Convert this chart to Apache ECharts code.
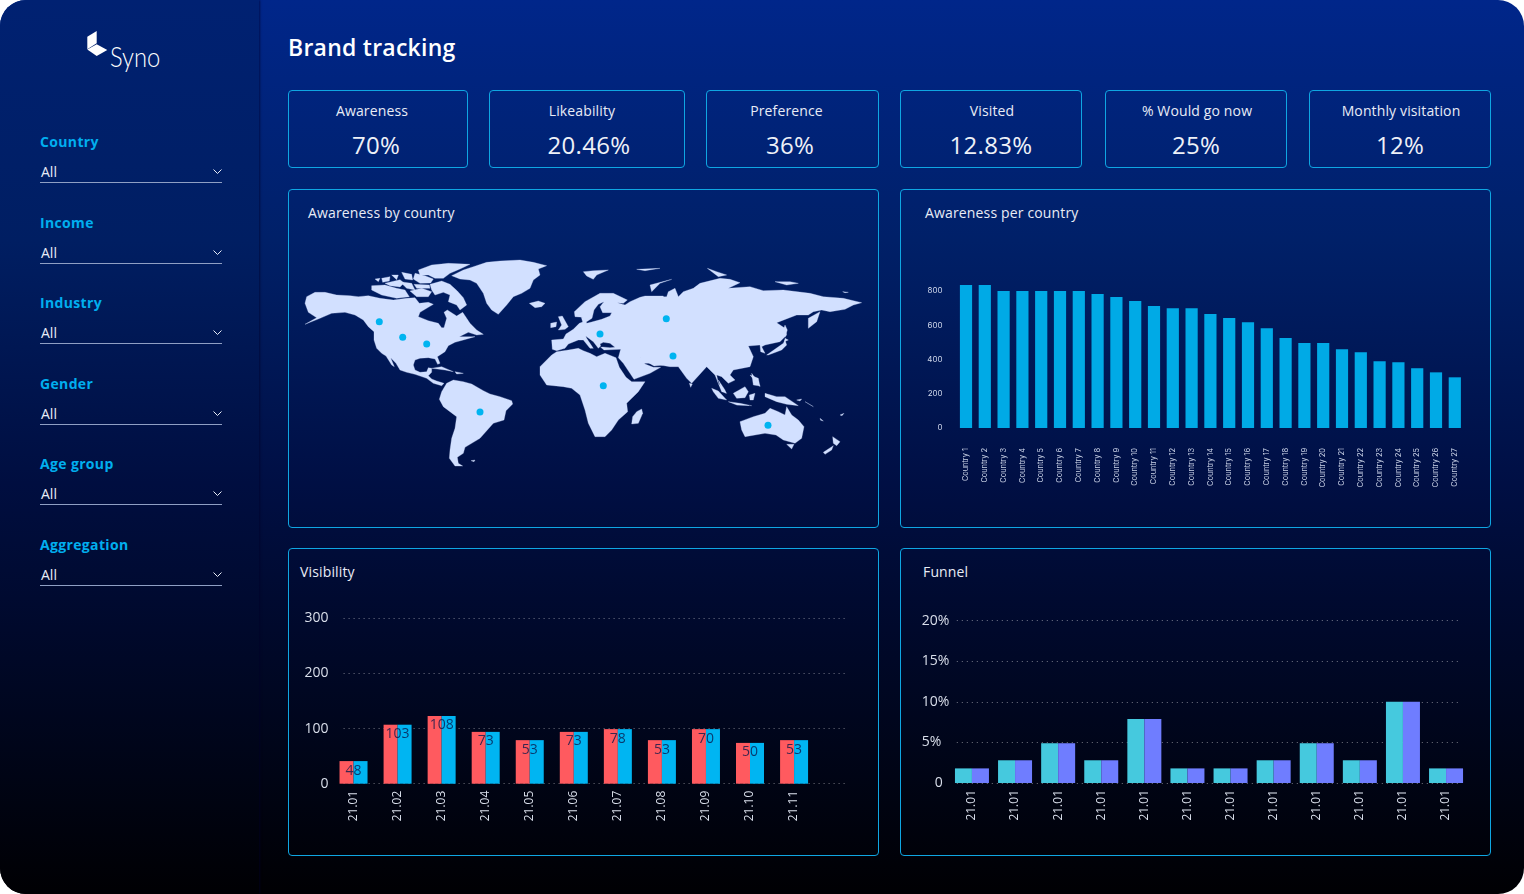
<!DOCTYPE html>
<html>
<head>
<meta charset="utf-8">
<title>Brand tracking</title>
<script src="https://cdn.jsdelivr.net/npm/echarts@6/dist/echarts.min.js"></script>
<style>
  html, body { margin: 0; background: #fff; font-family: "Open Sans", sans-serif; }
  #frame { position: absolute; left: 0; top: 0; width: 1524px; height: 894px; overflow: hidden; border-radius: 26px;
    background: linear-gradient(180deg, #00268a 0%, #002068 27%, #000f44 54%, #000a30 67%, #000003 100%); }
  #side { position: absolute; left: 0; top: 0; width: 259px; height: 894px; box-shadow: 1px 0 2px rgba(0, 0, 40, .6);
    background: linear-gradient(180deg, #002172 0%, #001e62 27%, #000e40 54%, #000a30 67%, #000003 100%); }
  #logoText { position: absolute; left: 110px; top: 40px; font: 300 27px Lato; color: #fff; transform: scaleX(.88); transform-origin: left; }
  .filterLabel { position: absolute; left: 40px; font-size: 14px; font-weight: 700; letter-spacing: .35px; color: #00aeef; line-height: 20px; }
  .filterValue { position: absolute; left: 40px; width: 182px; height: 20px; font-size: 14px; line-height: 20px; color: #e8ecf6; border-bottom: 1px solid #8f9fc4; text-indent: 1px; }
  .filterValue svg { position: absolute; right: 0; top: 7px; }
  h1 { position: absolute; left: 288px; top: 30px; margin: 0; font-size: 23px; font-weight: 600; letter-spacing: .25px; line-height: 34px; color: #fff; }
  .box { position: absolute; box-sizing: border-box; border: 1px solid #0fa6e2; border-radius: 4px; }
  .kpiTitle { position: absolute; left: 0; right: 0; top: 10px; text-align: center; font-size: 14px; letter-spacing: .13px; line-height: 20px; color: #e8ecf6; }
  .kpiValue { position: absolute; left: 0; right: 0; top: 37px; text-align: center; font-size: 24px; letter-spacing: .3px; line-height: 34px; color: #eef1f8; }
  .panelTitle { position: absolute; font-size: 14px; letter-spacing: .15px; line-height: 20px; color: #e8ecf6; }
  #chart { position: absolute; left: 0; top: 0; width: 1524px; height: 894px; z-index: 5; }
</style>
</head>
<body>
<div id="frame">
  <div id="side">
    <svg width="120" height="70" style="position:absolute;left:0;top:0">
      <polygon points="87.3,36.7 96.7,31 96.7,43.3 87.3,49.3" fill="#fff"/>
      <polygon points="87.3,49.5 96.7,44.3 107.3,50 96.7,56" fill="#fff"/>
    </svg>
    <div id="logoText">Syno</div>
  </div>
  <h1>Brand tracking</h1>
  <div id="chart"></div>
</div>
<script>
// sidebar + kpi text
const filterNames = ['Country', 'Income', 'Industry', 'Gender', 'Age group', 'Aggregation'];
const kpiNames = ['Awareness', 'Likeability', 'Preference', 'Visited', '% Would go now', 'Monthly visitation'];
const kpiValues = ['70%', '20.46%', '36%', '12.83%', '25%', '12%'];

// bars
const countryNames = ['Country 1', 'Country 2', 'Country 3', 'Country 4', 'Country 5', 'Country 6', 'Country 7', 'Country 8', 'Country 9',
  'Country 10', 'Country 11', 'Country 12', 'Country 13', 'Country 14', 'Country 15', 'Country 16', 'Country 17', 'Country 18',
  'Country 19', 'Country 20', 'Country 21', 'Country 22', 'Country 23', 'Country 24', 'Country 25', 'Country 26', 'Country 27'];
const countryAwareness = [835, 835, 800, 800, 800, 800, 800, 782, 765, 741, 712, 700, 700, 665, 642, 618, 583, 525, 496, 496, 460, 443, 390, 384, 349, 325, 296];

const visibilityMonths = ['21.01', '21.02', '21.03', '21.04', '21.05', '21.06', '21.07', '21.08', '21.09', '21.10', '21.11'];
const visibilityRed = [41, 107, 123, 94, 79, 94, 99, 79, 99, 74, 79];
const visibilityBlue = [41, 107, 123, 94, 79, 94, 99, 79, 99, 74, 79];
const visibilityLabels = ['48', '103', '108', '73', '53', '73', '78', '53', '70', '50', '53'];

const funnelMonths = ['21.01', '21.01', '21.01', '21.01', '21.01', '21.01', '21.01', '21.01', '21.01', '21.01', '21.01', '21.01'];
const funnelTeal = [1.8, 2.8, 4.9, 2.8, 7.9, 1.8, 1.8, 2.8, 4.9, 2.8, 10, 1.8];
const funnelViolet = [1.8, 2.8, 4.9, 2.8, 7.9, 1.8, 1.8, 2.8, 4.9, 2.8, 10, 1.8];

// world outline, each list in its own 3x units
const northAmerica = [
  [[15,145],[20,125],[45,112],[75,112],[110,120],[150,122],[175,125],[205,122],[240,130],[280,135],[320,130],[345,128],[358,145],[385,142],[400,148],[380,160],[360,172],[355,185],[385,197],[415,205],[425,218],[432,218],[440,190],[432,172],[442,165],[470,183],[488,172],[495,182],[510,205],[530,225],[550,238],[530,240],[505,232],[478,245],[495,245],[525,245],[490,255],[465,262],[445,272],[435,290],[420,300],[412,305],[420,325],[413,328],[405,312],[385,308],[360,310],[345,315],[340,330],[345,345],[360,352],[380,350],[385,338],[395,340],[395,352],[385,362],[395,372],[410,378],[432,385],[425,392],[400,385],[380,370],[345,358],[320,352],[300,345],[288,325],[272,308],[283,335],[275,330],[258,303],[245,295],[230,280],[222,255],[222,230],[205,215],[190,195],[165,180],[135,172],[95,175],[60,190],[15,208],[50,188],[25,172]],
  [[390,88],[425,78],[450,88],[472,108],[490,128],[500,150],[480,165],[470,150],[445,140],[450,120],[430,112],[405,120],[395,105]],
  [[355,45],[395,30],[445,25],[510,28],[480,42],[450,55],[430,70],[405,70],[385,60],[360,60]],
  [[345,55],[375,62],[400,72],[392,84],[360,85],[340,72]],
  [[305,52],[335,58],[338,75],[315,72]],
  [[245,70],[270,65],[268,78],[248,82]],
  [[215,92],[255,90],[290,100],[315,105],[328,125],[290,130],[245,120],[215,105]],
  [[275,60],[295,60],[290,74]],
  [[300,80],[335,85],[345,105],[320,100]],
  [[225,72],[240,70],[235,80]],
  [[255,85],[300,74],[312,84],[300,96],[270,92]],
  [[330,108],[365,100],[395,110],[385,125],[350,125]],
  [[342,88],[388,90],[390,100],[350,100]],
  [[455,62],[490,45],[520,35],[560,22],[600,18],[660,15],[700,22],[740,32],[715,42],[720,60],[700,75],[690,100],[665,115],[640,125],[620,150],[595,178],[575,165],[560,145],[550,115],[530,85],[510,75],[480,72]],
  [[688,145],[715,138],[735,145],[725,155],[705,158]],
  [[395,340],[425,335],[460,350],[435,345]],
  [[465,350],[490,355],[470,357]]
];
const southAmerica = [
  [[118,88],[125,65],[140,40],[160,30],[190,35],[215,42],[250,62],[270,72],[300,80],[335,92],[338,102],[318,122],[312,150],[280,160],[262,180],[240,205],[215,220],[195,232],[190,250],[172,262],[175,280],[188,288],[165,288],[148,265],[150,240],[155,205],[165,175],[170,140],[150,125],[130,110]],
  [[213,272],[225,270],[222,275]]
];
const europeAfrica = [
  [[67,268],[65,240],[100,237],[108,222],[130,208],[148,190],[158,186],[152,165],[165,165],[170,190],[185,186],[215,178],[240,168],[245,158],[218,158],[210,140],[222,125],[205,133],[192,150],[186,175],[170,185],[160,172],[135,170],[133,155],[165,125],[210,100],[250,100],[292,120],[280,130],[262,128],[285,135],[300,125],[330,112],[345,108],[400,108],[400,315],[372,318],[350,305],[332,292],[345,312],[370,322],[392,322],[360,340],[312,358],[302,343],[280,310],[265,293],[272,268],[222,270],[212,262],[218,261],[240,263],[255,262],[240,250],[220,247],[210,252],[212,258],[205,265],[190,245],[167,228],[170,235],[190,265],[180,265],[160,240],[145,240],[115,252],[105,265],[80,272]],
  [[80,275],[115,270],[145,265],[160,272],[180,280],[200,290],[225,280],[258,293],[268,322],[288,352],[305,365],[345,365],[325,395],[290,430],[293,455],[265,480],[245,510],[225,530],[195,530],[175,490],[165,450],[150,405],[125,385],[100,380],[50,375],[30,345],[30,320],[65,285]],
  [[85,170],[97,168],[115,200],[105,208],[85,210],[95,195]],
  [[62,190],[80,186],[78,200],[62,203]],
  [[160,35],[190,32],[235,30],[200,45],[190,58],[170,48]],
  [[320,28],[390,25],[345,32]],
  [[335,447],[338,460],[325,490],[305,492],[308,470],[320,455]]
];
const asia = [
  [[-10,112],[50,110],[55,95],[75,85],[85,110],[100,95],[130,85],[150,70],[210,55],[240,58],[270,68],[235,85],[300,80],[340,92],[400,90],[480,100],[520,110],[580,115],[635,128],[610,135],[585,148],[540,155],[515,150],[490,155],[475,165],[440,165],[380,188],[405,205],[410,225],[390,245],[345,255],[335,260],[345,280],[332,275],[330,255],[295,258],[310,290],[300,320],[250,330],[240,345],[255,360],[235,370],[215,350],[200,345],[205,370],[230,400],[215,395],[195,345],[170,320],[125,370],[110,355],[85,320],[60,320],[0,310],[-30,310]],
  [[0,75],[65,58],[30,70],[5,95]],
  [[350,285],[400,250],[405,240],[410,255],[395,270],[355,285]],
  [[405,235],[415,240],[403,245]],
  [[405,195],[412,210],[405,232],[400,210]],
  [[475,205],[475,175],[510,155],[500,185]],
  [[118,370],[127,372],[122,382]],
  [[305,340],[320,360],[330,378],[310,375]],
  [[375,65],[420,65],[445,70],[410,75]],
  [[172,25],[200,35],[230,45],[205,50]],
  [[578,95],[595,97],[585,98]]
];
const oceania = [
  [[150,140],[190,125],[225,115],[240,100],[265,110],[285,120],[290,95],[305,120],[325,135],[342,155],[335,190],[315,205],[280,195],[258,180],[225,175],[195,180],[165,185],[155,165]],
  [[290,208],[312,208],[305,222]],
  [[428,185],[450,200],[440,212],[430,205]],
  [[400,232],[430,212],[425,225],[405,238]],
  [[225,55],[260,65],[285,65],[325,92],[290,88],[260,80],[225,65]],
  [[130,55],[165,35],[175,50],[165,68],[140,70]],
  [[65,40],[85,48],[110,75],[85,70],[70,50]],
  [[115,80],[150,85],[185,92],[140,90]],
  [[85,15],[105,45],[108,55],[95,45]],
  [[178,60],[195,55],[190,75],[180,75]],
  [[180,0],[210,35],[205,10]],
  [[320,75],[335,72],[330,78]],
  [[345,80],[370,95],[362,90]],
  [[390,130],[400,138],[392,136]],
  [[450,120],[462,115],[456,122]]
];
const mapDots = [[379.3, 321.7], [402.7, 337.3], [426.7, 344], [600, 334], [666.3, 318.7], [673, 356], [603.3, 385.7], [480, 412], [768, 425.3]];

const frame = document.getElementById('frame');
const side = document.getElementById('side');
const chevron = '<svg width="9" height="6"><path d="M0.5 0.5 L4.5 4.5 L8.5 0.5" fill="none" stroke="#e8ecf6" stroke-width="1"/></svg>';

filterNames.forEach((name, i) => {
  const y = 132 + i * 80.6;
  side.insertAdjacentHTML('beforeend',
    `<div class="filterLabel" style="top:${y}px">${name}</div>` +
    `<div class="filterValue" style="top:${y + 30}px">All${chevron}</div>`);
});

// left, width, title shift, value shift
const kpiBoxes = [[288, 180, -6, -2], [489, 196, -5, 2], [706, 173, -6, -2.5], [900, 182, 1, 0], [1105, 182, 1, 0], [1309, 182, 1, 0]];
kpiBoxes.forEach((b, i) => {
  frame.insertAdjacentHTML('beforeend',
    `<div class="box" style="left:${b[0]}px;top:90px;width:${b[1]}px;height:78px">` +
    `<div class="kpiTitle" style="transform:translateX(${b[2]}px)">${kpiNames[i]}</div>` +
    `<div class="kpiValue" style="transform:translateX(${b[3]}px)">${kpiValues[i]}</div></div>`);
});

const panels = [
  ['Awareness by country', 288, 189, 591, 339, 20],
  ['Awareness per country', 900, 189, 591, 339, 25],
  ['Visibility', 288, 548, 591, 308, 12],
  ['Funnel', 900, 548, 591, 308, 23]
];
panels.forEach(p => {
  frame.insertAdjacentHTML('beforeend',
    `<div class="box" style="left:${p[1]}px;top:${p[2]}px;width:${p[3]}px;height:${p[4]}px"></div>` +
    `<div class="panelTitle" style="left:${p[1] + p[5]}px;top:${p[2] + 14}px">${p[0]}</div>`);
});

// map geometry
const toPage = (rings, ox, oy) => rings.map(r => r.map(p => [ox + p[0] / 3, oy + p[1] / 3]));
const allRings = [].concat(
  toPage(northAmerica, 300, 255),
  toPage(southAmerica, 400, 370),
  toPage(europeAfrica, 530, 260),
  toPage(asia, 650, 260),
  toPage(oceania, 690, 375)
);
const worldJson = {
  type: 'FeatureCollection',
  features: allRings.map((r, i) => ({
    type: 'Feature',
    properties: { name: 'r' + i },
    geometry: { type: 'Polygon', coordinates: [r.concat([r[0]])] }
  }))
};
echarts.registerMap('world', worldJson);
const xs = allRings.flat().map(p => p[0]);
const ys = allRings.flat().map(p => p[1]);
const mapLeft = Math.min(...xs), mapTop = Math.min(...ys);
const mapW = Math.max(...xs) - mapLeft, mapH = Math.max(...ys) - mapTop;

const textColor = '#d9dfeb';
const dotted = { lineStyle: { type: [1, 4], color: 'rgba(255,255,255,.45)', width: 1 } };
const hiddenX = (i) => ({ type: 'value', gridIndex: i, show: false, min: 0, max: 1 });
const tickFont = { fontFamily: 'Open Sans', color: textColor };

var myChart = echarts.init(document.getElementById('chart'), null, { renderer: 'canvas' });
myChart.setOption({
  animation: false,
  backgroundColor: 'transparent',
  tooltip: { show: false },
  geo: {
    map: 'world',
    roam: false,
    silent: true,
    left: mapLeft,
    top: mapTop,
    width: mapW,
    height: mapH,
    projection: { project: p => p, unproject: p => p },
    itemStyle: { areaColor: '#d2e0ff', borderColor: '#d2e0ff', borderWidth: 0.3 },
    label: { show: false }
  },
  grid: [
    { left: 956.6, top: 284.15, width: 507.6, height: 143.85 },
    { left: 343.6, top: 618.3, width: 501.4, height: 165.4 },
    { left: 331.5, top: 618.3, width: 484.6, height: 165.4 },
    { left: 956.8, top: 620.7, width: 501.2, height: 162.3 },
    { left: 950.4, top: 620.7, width: 517.2, height: 162.3 }
  ],
  xAxis: [
    {
      type: 'category', gridIndex: 0, data: countryNames,
      axisLine: { show: false }, axisTick: { show: false },
      axisLabel: { interval: 0, rotate: 90, margin: 20, fontSize: 7.4, fontFamily: 'Inter', color: '#cdd6ea' }
    },
    hiddenX(1),
    {
      type: 'category', gridIndex: 2, data: visibilityMonths,
      axisLine: { show: false }, axisTick: { show: false },
      axisLabel: { interval: 0, rotate: 90, margin: 7, fontSize: 12, ...tickFont }
    },
    hiddenX(3),
    {
      type: 'category', gridIndex: 4, data: funnelMonths,
      axisLine: { show: false }, axisTick: { show: false },
      axisLabel: { interval: 0, rotate: 90, margin: 7, fontSize: 12, ...tickFont }
    }
  ],
  yAxis: [
    {
      type: 'value', gridIndex: 0, min: 0, max: 840, interval: 200,
      splitLine: { show: false }, axisLine: { show: false }, axisTick: { show: false },
      axisLabel: { margin: 14, fontSize: 8, fontFamily: 'Inter', color: '#cdd6ea', showMaxLabel: false }
    },
    {
      type: 'value', gridIndex: 1, min: 0, max: 300, interval: 100,
      splitLine: { show: true, ...dotted }, axisLine: { show: false }, axisTick: { show: false },
      axisLabel: { margin: 15, fontSize: 14, ...tickFont }
    },
    { type: 'value', gridIndex: 2, min: 0, max: 300, show: false, splitLine: { show: false } },
    {
      type: 'value', gridIndex: 3, min: 0, max: 20, interval: 5,
      splitLine: { show: true, ...dotted }, axisLine: { show: false }, axisTick: { show: false },
      axisLabel: {
        margin: 35, fontSize: 14, align: 'left', ...tickFont,
        formatter: v => v === 0 ? '{z|0}' : v + '%',
        rich: { z: { padding: [0, 0, 0, 13], fontSize: 14, fontFamily: 'Open Sans', color: textColor } }
      }
    },
    { type: 'value', gridIndex: 4, min: 0, max: 20, show: false, splitLine: { show: false } }
  ],
  series: [
    {
      type: 'scatter', coordinateSystem: 'geo', data: mapDots, symbolSize: 7, silent: true,
      itemStyle: { color: '#00b4f0', opacity: 1 }
    },
    {
      type: 'bar', xAxisIndex: 0, yAxisIndex: 0, data: countryAwareness, barWidth: 12.2, silent: true,
      itemStyle: { color: '#00aae6' }
    },
    {
      type: 'bar', xAxisIndex: 2, yAxisIndex: 2, data: visibilityRed, barWidth: 14, barGap: 0, silent: true,
      itemStyle: { color: '#ff5a5f' }
    },
    {
      type: 'bar', xAxisIndex: 2, yAxisIndex: 2, data: visibilityBlue, barWidth: 14, barGap: 0, silent: true,
      itemStyle: { color: '#00b5f2' },
      label: {
        show: true, position: [0, 9.5], align: 'center', verticalAlign: 'middle', fontSize: 14,
        fontFamily: 'Open Sans', color: 'rgba(10,25,75,.8)',
        formatter: p => visibilityLabels[p.dataIndex]
      }
    },
    {
      type: 'bar', xAxisIndex: 4, yAxisIndex: 4, data: funnelTeal, barWidth: 17, barGap: 0, silent: true,
      itemStyle: { color: '#45c9de' }
    },
    {
      type: 'bar', xAxisIndex: 4, yAxisIndex: 4, data: funnelViolet, barWidth: 17, barGap: 0, silent: true,
      itemStyle: { color: '#6f7dff' }
    }
  ]
});
</script>
</body>
</html>
